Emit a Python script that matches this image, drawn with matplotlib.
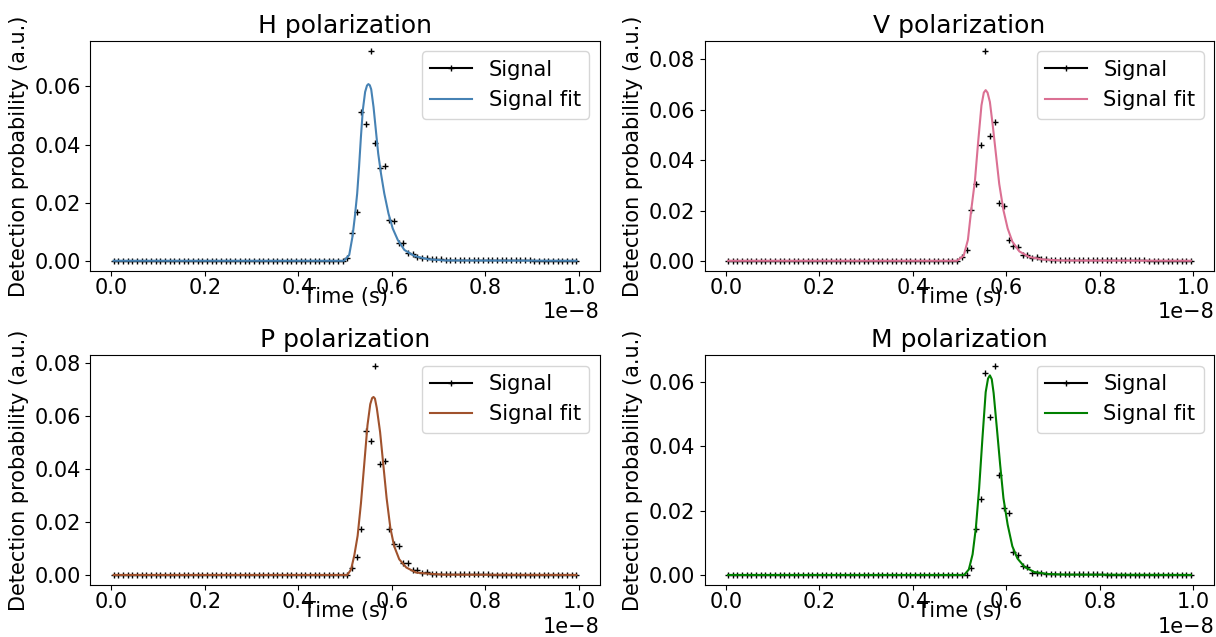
import numpy as np
import matplotlib
matplotlib.use('Agg')
import matplotlib.pyplot as plt
from matplotlib.lines import Line2D

# time bins (centres), 100 bins of 0.1 ns
nbins = 100
time = (np.arange(nbins) + 0.5) * 1e-10

# flat part before the pulse (bins 0-48) and the slow tail (bins 71-99)
before = [0.0001] * 49
tail = [0.0005, 0.0005, 0.0004, 0.0004, 0.0004, 0.0003, 0.0003, 0.0003, 0.0003, 0.0003,
        0.0002, 0.0002, 0.0002, 0.0002, 0.0002, 0.0002, 0.0002, 0.0002, 0.0002,
        0.0001, 0.0001, 0.0001, 0.0001, 0.0001, 0.0001, 0.0001, 0.0001, 0.0001, 0.0001]

# pulse region, bins 49-70
peak_H = [0.0001, 0.0009, 0.0095, 0.0169, 0.0512, 0.0472, 0.0720, 0.0407, 0.0320, 0.0327, 0.0141,
          0.0138, 0.0063, 0.0063, 0.0026, 0.0025, 0.0015, 0.0011, 0.0012, 0.0008, 0.0008, 0.0006]
peak_V = [0.0001, 0.0016, 0.0042, 0.0204, 0.0305, 0.0461, 0.0830, 0.0496, 0.0551, 0.0231, 0.0218,
          0.0084, 0.0058, 0.0055, 0.0025, 0.0025, 0.0012, 0.0014, 0.0008, 0.0006, 0.0005, 0.0005]
peak_P = [0.0001, 0.0001, 0.0028, 0.0068, 0.0175, 0.0545, 0.0505, 0.0790, 0.0420, 0.0432, 0.0175,
          0.0116, 0.0110, 0.0045, 0.0046, 0.0019, 0.0019, 0.0010, 0.0011, 0.0006, 0.0005, 0.0005]
peak_M = [0.0001, 0.0001, 0.0002, 0.0024, 0.0142, 0.0237, 0.0627, 0.0491, 0.0650, 0.0311, 0.0208,
          0.0193, 0.0072, 0.0063, 0.0029, 0.0026, 0.0008, 0.0008, 0.0006, 0.0004, 0.0004, 0.0004]

# fitted curves (time in units of 1e-10 s)
fit_t_H = [0.5, 49.8, 50.9, 51.6, 52.1, 52.6, 53.0, 53.4, 53.8, 54.3, 54.7, 55.0, 55.3, 55.6, 56.1,
           56.6, 57.1, 57.7, 58.4, 59.3, 60.2, 61.3, 62.7, 64.9, 67.8, 71.4, 99.5]
fit_v_H = [0.0001, 0.0001, 0.0021, 0.0084, 0.0152, 0.0232, 0.0323, 0.0426, 0.0518, 0.0581, 0.0603,
           0.0608, 0.0604, 0.0590, 0.0529, 0.0449, 0.0369, 0.0300, 0.0232, 0.0163, 0.0112, 0.0072,
           0.0038, 0.0017, 0.0006, 0.0002, 0.0001]
fit_t_V = [0.5, 49.5, 50.9, 51.8, 52.5, 53.3, 54.0, 54.7, 55.2, 55.6, 56.0, 56.5, 57.1, 57.8, 58.5,
           59.4, 60.3, 61.3, 62.8, 64.9, 67.8, 71.7, 99.5]
fit_v_V = [0.0001, 0.0001, 0.0021, 0.0084, 0.0201, 0.0318, 0.0474, 0.0617, 0.0667, 0.0677, 0.0667,
           0.0630, 0.0539, 0.0422, 0.0305, 0.0201, 0.0129, 0.0077, 0.0038, 0.0016, 0.0006, 0.0002,
           0.0001]
fit_t_P = [0.5, 50.5, 51.3, 52.0, 52.7, 53.4, 54.1, 54.8, 55.4, 55.8, 56.1, 56.4, 56.8, 57.5, 58.2,
           58.9, 59.7, 60.5, 61.6, 63.1, 65.2, 68.4, 71.2, 99.5]
fit_v_P = [0.0001, 0.0001, 0.0022, 0.0076, 0.0149, 0.0270, 0.0416, 0.0565, 0.0645, 0.0668, 0.0672,
           0.0666, 0.0630, 0.0540, 0.0415, 0.0290, 0.0178, 0.0110, 0.0060, 0.0029, 0.0010, 0.0005,
           0.0002, 0.0001]
fit_t_M = [0.5, 51.0, 52.0, 52.8, 53.5, 54.2, 54.9, 55.6, 56.1, 56.5, 56.9, 57.3, 58.0, 58.7, 59.4,
           60.3, 61.3, 62.4, 63.9, 66.0, 68.9, 72.5, 99.5]
fit_v_M = [0.0001, 0.0001, 0.0018, 0.0065, 0.0147, 0.0270, 0.0424, 0.0568, 0.0610, 0.0620, 0.0608,
           0.0565, 0.0455, 0.0342, 0.0239, 0.0157, 0.0090, 0.0052, 0.0026, 0.0010, 0.0004, 0.0002,
           0.0001]

labels = ['H', 'V', 'P', 'M']
peaks = [peak_H, peak_V, peak_P, peak_M]
fit_t = [fit_t_H, fit_t_V, fit_t_P, fit_t_M]
fit_v = [fit_v_H, fit_v_V, fit_v_P, fit_v_M]
colors = ['steelblue', 'palevioletred', 'sienna', 'green']

plt.rcParams['font.size'] = 15
plt.rcParams['xtick.major.pad'] = 1.5

fig, axes = plt.subplots(2, 2, figsize=(12.16, 6.37), dpi=100)
fig.subplots_adjust(left=0.0744, right=0.9984, top=0.9356, bottom=0.081,
                    wspace=0.207, hspace=0.365)

for ax, lab, pk, ft, fv, col in zip(axes.flat, labels, peaks, fit_t, fit_v, colors):
    signal = np.array(before + pk + tail)
    ax.plot(time, signal, linestyle='none', marker='+', color='k', markersize=5,
            markeredgewidth=1)
    ax.plot(np.array(ft) * 1e-10, fv, color=col, linewidth=1.5)
    ax.set_title(lab + ' polarization', fontsize=18)
    ax.set_xlabel('Time (s)', labelpad=-8)
    ax.set_ylabel('Detection probability (a.u.)')
    handles = [Line2D([], [], color='k', marker='+', markersize=4, linewidth=1.5),
               Line2D([], [], color=col, linewidth=1.5)]
    ax.legend(handles, ['Signal', 'Signal fit'], loc='upper right')

fig.savefig('out.png')
